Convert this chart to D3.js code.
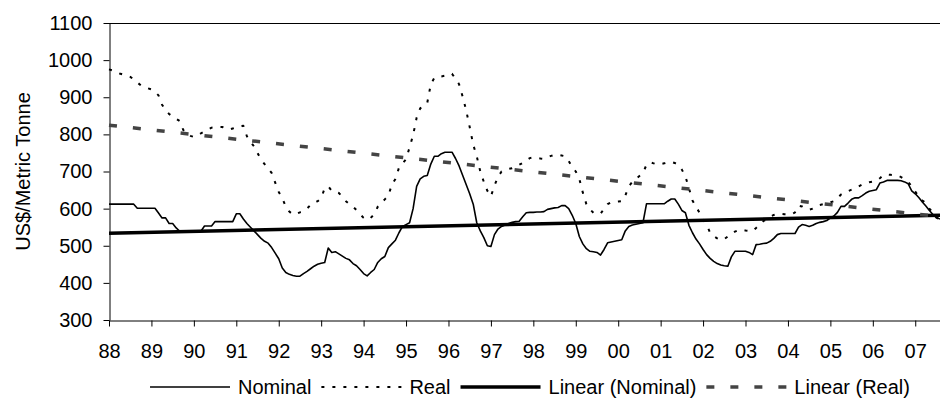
<!DOCTYPE html>
<html>
<head>
<meta charset="utf-8">
<script src="https://cdn.jsdelivr.net/npm/d3@7"></script>
<style>
  body { margin: 0; background: #fff; }
  svg { display: block; font-family: "Liberation Sans", Arial, sans-serif; }
</style>
</head>
<body>
<div id="chart"></div>
<script>
// monthly prices, Jan 1988 .. Aug 2007 (US$/metric tonne)
const nominal = [
  612,612,612,612,612,612,612,612,601,601,601,601,
  601,601,588,575,575,560,560,548,539,539,539,539,
  539,539,539,553,553,553,565,565,565,565,565,565,
  586,586,572,560,550,540,530,520,512,507,495,480,
  465,440,428,423,420,418,418,425,431,438,445,450,
  453,455,494,482,484,478,472,466,462,452,446,436,
  425,419,428,436,455,465,471,495,505,515,535,552,
  557,562,600,660,680,687,689,720,741,741,748,752,
  752,752,735,715,690,665,640,612,562,540,522,500,
  498,530,545,552,556,560,563,565,566,578,589,590,
  590,591,591,592,598,600,602,603,608,608,600,582,
  560,525,505,492,485,484,482,475,490,508,510,512,
  514,516,540,552,556,558,560,562,613,613,613,613,
  613,613,620,626,626,612,595,589,555,535,518,505,
  490,476,466,458,452,448,446,445,470,485,485,485,
  485,482,476,503,504,506,507,512,520,530,533,533,
  533,533,533,550,557,555,552,555,560,563,565,568,
  575,580,590,606,606,615,625,629,629,635,642,647,
  649,651,669,672,676,676,676,676,675,672,667,648,
  640,630,618,607,595,584,576,572
];

const real = [
  975,972,968,964,961,958,955,948,940,932,928,924,
  921,915,905,880,865,855,848,842,836,812,800,796,
  793,797,803,808,813,818,819,820,820,816,813,816,
  819,822,823,795,780,768,750,732,720,708,696,670,
  645,628,605,592,584,586,590,593,600,610,617,620,
  628,655,660,648,645,642,632,620,612,605,596,585,
  575,570,575,585,605,615,625,635,665,680,710,722,
  733,765,798,845,870,878,885,935,952,955,956,958,
  962,963,950,935,902,865,820,772,741,700,672,648,
  633,662,685,700,704,707,709,712,718,723,730,736,
  738,737,735,734,738,742,745,745,743,741,728,712,
  700,680,643,612,598,589,587,586,600,612,617,618,
  619,620,635,660,672,680,688,696,718,725,722,719,
  720,722,725,726,723,718,705,687,655,622,605,589,
  572,557,535,526,520,515,518,525,532,538,542,543,
  541,540,539,548,558,566,572,578,583,586,586,585,
  585,584,590,608,606,600,597,600,606,610,612,615,
  617,620,628,638,643,647,651,655,660,665,668,671,
  673,675,682,690,692,691,690,689,685,679,672,660,
  646,632,622,615,600,589,576,570
];

const yearLabels = ["88","89","90","91","92","93","94","95","96","97",
                    "98","99","00","01","02","03","04","05","06","07"];
const yTicks = [300,400,500,600,700,800,900,1000,1100];
const legendNames = ["Nominal", "Real", "Linear (Nominal)", "Linear (Real)"];

const width = 940, height = 405;
const plotBox = { left: 109, right: 940, top: 23, bottom: 320 };
const fontSize = 20;

// least squares line, same as the spreadsheet trendline
function linearFit(values) {
  const n = values.length;
  const mx = d3.mean(values, (d, i) => i);
  const my = d3.mean(values);
  let sxy = 0, sxx = 0;
  values.forEach((v, i) => { sxy += (i - mx) * (v - my); sxx += (i - mx) * (i - mx); });
  const slope = sxy / sxx;
  return [my - slope * mx, my + slope * (n - 1 - mx)];
}

const svg = d3.select("#chart").append("svg")
  .attr("width", width)
  .attr("height", height);

svg.append("rect").attr("width", width).attr("height", height).attr("fill", "#fff");

const x = d3.scaleLinear().domain([0, nominal.length - 1]).range([plotBox.left, plotBox.right]);
const y = d3.scaleLinear().domain([300, 1100]).range([plotBox.bottom, plotBox.top]);

// y axis
svg.append("g")
  .attr("transform", `translate(${plotBox.left + 0.5},0)`)
  .call(d3.axisLeft(y).tickValues(yTicks).tickFormat(d3.format("d"))
    .tickSize(6).tickSizeOuter(0).tickPadding(11));

// x axis, one tick per January
svg.append("g")
  .attr("transform", `translate(0,${plotBox.bottom + 0.5})`)
  .call(d3.axisBottom(x)
    .tickValues(yearLabels.map((d, i) => i * 12))
    .tickFormat((d, i) => yearLabels[i])
    .tickSize(6).tickSizeOuter(0).tickPadding(17));

svg.selectAll(".tick text")
  .attr("font-size", fontSize)
  .attr("font-family", "Liberation Sans, Arial, sans-serif")
  .attr("fill", "#000");
svg.selectAll(".domain, .tick line").attr("stroke", "#000");

// top border of plot area
svg.append("line")
  .attr("x1", plotBox.left).attr("x2", plotBox.right)
  .attr("y1", Math.round(y(1100)) + 0.5).attr("y2", Math.round(y(1100)) + 0.5)
  .attr("stroke", "#000");

svg.append("text")
  .attr("transform", `translate(30,${(plotBox.top + plotBox.bottom) / 2}) rotate(-90)`)
  .attr("text-anchor", "middle")
  .attr("font-size", fontSize)
  .text("US$/Metric Tonne");

const line = d3.line().x((d, i) => x(i)).y(d => y(d));

const nomFit = linearFit(nominal);
const realFit = linearFit(real);

const styles = {
  nominal:   { stroke: "#000", width: 1.6, dash: null },
  real:      { stroke: "#000", width: 2, dash: "3,8" },
  trendNom:  { stroke: "#000", width: 3.5, dash: null },
  trendReal: { stroke: "#444", width: 3.5, dash: "8,16" }
};

function drawPath(g, d, s) {
  return g.append("path")
    .attr("d", d)
    .attr("fill", "none")
    .attr("stroke", s.stroke)
    .attr("stroke-width", s.width)
    .attr("stroke-dasharray", s.dash)
    .attr("stroke-linejoin", "round");
}

const plot = svg.append("g");
drawPath(plot, line(nominal), styles.nominal);
drawPath(plot, line(real), styles.real);
drawPath(plot, d3.line()([[x(0), y(nomFit[0])], [x(nominal.length - 1), y(nomFit[1])]]), styles.trendNom);
drawPath(plot, d3.line()([[x(0), y(realFit[0])], [x(real.length - 1), y(realFit[1])]]), styles.trendReal);

// legend
const legendStyles = [styles.nominal, styles.real, styles.trendNom, styles.trendReal];
const symLen = 80, symGap = 8, itemGap = 10, legendY = 387;
const legend = svg.append("g");
let cx = 0;
legendNames.forEach((name, i) => {
  const item = legend.append("g").attr("transform", `translate(${cx},0)`);
  drawPath(item, `M0,${legendY}H${symLen}`, legendStyles[i]);
  const t = item.append("text")
    .attr("x", symLen + symGap)
    .attr("y", legendY + 7)
    .attr("font-size", fontSize)
    .text(name);
  cx += symLen + symGap + t.node().getComputedTextLength() + itemGap;
});
const legendW = cx - itemGap;
legend.attr("transform", `translate(${530 - legendW / 2},0)`);
</script>
</body>
</html>
